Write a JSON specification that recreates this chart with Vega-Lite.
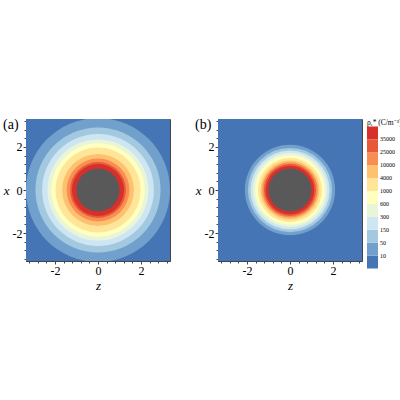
{
  "$schema": "https://vega.github.io/schema/vega-lite/v6.json",
  "description": "Filled contours of space charge density round a sphere, two cases (a) and (b).",
  "padding": {"left": 2, "top": 117, "right": 0, "bottom": 0},
  "background": "white",
  "data": {
    "values": [
      {"panel": "a", "band": 1, "r": 6},
      {"panel": "a", "band": 2, "r": 3.35},
      {"panel": "a", "band": 3, "r": 2.91},
      {"panel": "a", "band": 4, "r": 2.6},
      {"panel": "a", "band": 5, "r": 2.35},
      {"panel": "a", "band": 6, "r": 2.17},
      {"panel": "a", "band": 7, "r": 1.98},
      {"panel": "a", "band": 8, "r": 1.67},
      {"panel": "a", "band": 9, "r": 1.46},
      {"panel": "a", "band": 10, "r": 1.3},
      {"panel": "a", "band": 11, "r": 1.21},
      {"panel": "a", "band": 0, "r": 1.0},
      {"panel": "b", "band": 1, "r": 6},
      {"panel": "b", "band": 2, "r": 2.1},
      {"panel": "b", "band": 3, "r": 1.96},
      {"panel": "b", "band": 4, "r": 1.84},
      {"panel": "b", "band": 5, "r": 1.73},
      {"panel": "b", "band": 6, "r": 1.62},
      {"panel": "b", "band": 7, "r": 1.49},
      {"panel": "b", "band": 8, "r": 1.37},
      {"panel": "b", "band": 9, "r": 1.29},
      {"panel": "b", "band": 10, "r": 1.21},
      {"panel": "b", "band": 11, "r": 1.13},
      {"panel": "b", "band": 0, "r": 1.0}
    ]
  },
  "spacing": 23,
  "hconcat": [
    {
      "width": 144,
      "height": 142,
      "title": {"text": "(a)", "anchor": "start", "frame": "group", "dx": -23, "dy": 17},
      "layer": [
        {
          "transform": [{"filter": "datum.panel == 'a' && datum.band > 0"}],
          "mark": {"type": "arc", "theta": 0, "theta2": 6.2832, "clip": true},
          "encoding": {
            "x": {"datum": 0, "type": "quantitative", "scale": {"domain": [-3.35, 3.35], "nice": false, "zero": false},
                  "axis": {"title": "z", "values": [-2, 0, 2]}},
            "y": {"datum": 0, "type": "quantitative", "scale": {"domain": [-3.3, 3.3], "nice": false, "zero": false},
                  "axis": {"title": "x", "values": [-2, 0, 2]}},
            "radius": {"field": "r", "type": "quantitative", "stack": null, "scale": {"type": "linear", "domain": [0, 3.35], "range": [0, 72]}},
            "color": {
              "field": "band", "type": "quantitative",
              "scale": {
                "type": "threshold",
                "domain": [1.5, 2.5, 3.5, 4.5, 5.5, 6.5, 7.5, 8.5, 9.5, 10.5],
                "range": ["#4575b4", "#72a0cc", "#a3c9e1", "#cde6f1", "#e9f5d9", "#ffffbf", "#fee597", "#fdc170", "#f88e52", "#e8593b", "#d7302a"]
              },
              "legend": {
                "type": "gradient",
                "title": "ρₑ* (C/m⁻³)",
                "labelExpr": "['10','50','150','300','600','1000','4000','10000','25000','35000'][round(datum.value - 1.5)]"
              }
            }
          }
        },
        {
          "transform": [{"filter": "datum.panel == 'a' && datum.band == 0"}],
          "mark": {"type": "arc", "theta": 0, "theta2": 6.2832, "color": "#595959"},
          "encoding": {
            "x": {"datum": 0, "type": "quantitative",
                  "axis": {"orient": "bottom", "values": [-3.2, -2.8, -2.4, -1.6, -1.2, -0.8, -0.4, 0.4, 0.8, 1.2, 1.6, 2.4, 2.8, 3.2], "labels": false, "domain": false, "tickSize": 2, "title": null}},
            "y": {"datum": 0, "type": "quantitative",
                  "axis": {"orient": "left", "values": [-3.2, -2.8, -2.4, -1.6, -1.2, -0.8, -0.4, 0.4, 0.8, 1.2, 1.6, 2.4, 2.8, 3.2], "labels": false, "domain": false, "tickSize": 2, "title": null}},
            "radius": {"field": "r", "type": "quantitative", "stack": null, "scale": {"type": "linear", "domain": [0, 3.35], "range": [0, 72]}}
          }
        }
      ],
      "resolve": {"axis": {"x": "independent", "y": "independent"}}
    },
    {
      "width": 144,
      "height": 142,
      "title": {"text": "(b)", "anchor": "start", "frame": "group", "dx": -23, "dy": 17},
      "layer": [
        {
          "transform": [{"filter": "datum.panel == 'b' && datum.band > 0"}],
          "mark": {"type": "arc", "theta": 0, "theta2": 6.2832, "clip": true},
          "encoding": {
            "x": {"datum": 0, "type": "quantitative", "scale": {"domain": [-3.35, 3.35], "nice": false, "zero": false},
                  "axis": {"title": "z", "values": [-2, 0, 2]}},
            "y": {"datum": 0, "type": "quantitative", "scale": {"domain": [-3.3, 3.3], "nice": false, "zero": false},
                  "axis": {"title": "x", "values": [-2, 0, 2]}},
            "radius": {"field": "r", "type": "quantitative", "stack": null, "scale": {"type": "linear", "domain": [0, 3.35], "range": [0, 72]}},
            "color": {
              "field": "band", "type": "quantitative",
              "scale": {
                "type": "threshold",
                "domain": [1.5, 2.5, 3.5, 4.5, 5.5, 6.5, 7.5, 8.5, 9.5, 10.5],
                "range": ["#4575b4", "#72a0cc", "#a3c9e1", "#cde6f1", "#e9f5d9", "#ffffbf", "#fee597", "#fdc170", "#f88e52", "#e8593b", "#d7302a"]
              },
              "legend": {
                "type": "gradient",
                "title": "ρₑ* (C/m⁻³)",
                "labelExpr": "['10','50','150','300','600','1000','4000','10000','25000','35000'][round(datum.value - 1.5)]"
              }
            }
          }
        },
        {
          "transform": [{"filter": "datum.panel == 'b' && datum.band == 0"}],
          "mark": {"type": "arc", "theta": 0, "theta2": 6.2832, "color": "#595959"},
          "encoding": {
            "x": {"datum": 0, "type": "quantitative",
                  "axis": {"orient": "bottom", "values": [-3.2, -2.8, -2.4, -1.6, -1.2, -0.8, -0.4, 0.4, 0.8, 1.2, 1.6, 2.4, 2.8, 3.2], "labels": false, "domain": false, "tickSize": 2, "title": null}},
            "y": {"datum": 0, "type": "quantitative",
                  "axis": {"orient": "left", "values": [-3.2, -2.8, -2.4, -1.6, -1.2, -0.8, -0.4, 0.4, 0.8, 1.2, 1.6, 2.4, 2.8, 3.2], "labels": false, "domain": false, "tickSize": 2, "title": null}},
            "radius": {"field": "r", "type": "quantitative", "stack": null, "scale": {"type": "linear", "domain": [0, 3.35], "range": [0, 72]}}
          }
        }
      ],
      "resolve": {"axis": {"x": "independent", "y": "independent"}}
    }
  ],
  "resolve": {"scale": {"color": "shared", "radius": "shared"}},
  "config": {
    "font": "Liberation Serif",
    "view": {"stroke": "#444", "strokeWidth": 1},
    "title": {"font": "Liberation Serif", "fontSize": 14, "fontWeight": "normal", "color": "black", "offset": 0},
    "axis": {
      "grid": false,
      "labelFont": "Liberation Serif",
      "labelFontSize": 12,
      "labelColor": "black",
      "labelPadding": 1,
      "labelExpr": "datum.value < 0 ? '-' + abs(datum.value) : '' + datum.value",
      "tickSize": 3,
      "tickColor": "#444",
      "domainColor": "#444",
      "titleFont": "Liberation Serif",
      "titleFontSize": 13,
      "titleFontStyle": "italic",
      "titleFontWeight": "normal",
      "titleColor": "black",
      "titlePadding": 3
    },
    "axisLeft": {"titleAngle": 0, "titleBaseline": "middle", "titleAlign": "right"},
    "legend": {
      "orient": "right",
      "offset": 4,
      "gradientLength": 142,
      "gradientThickness": 11,
      "gradientStrokeWidth": 0,
      "labelFont": "Liberation Serif",
      "labelFontSize": 6,
      "labelColor": "black",
      "labelOffset": 5,
      "labelOverlap": false,
      "titleFont": "Liberation Serif",
      "titleFontSize": 7.5,
      "titleFontWeight": "normal",
      "titleColor": "black",
      "titlePadding": 0
    }
  }
}
